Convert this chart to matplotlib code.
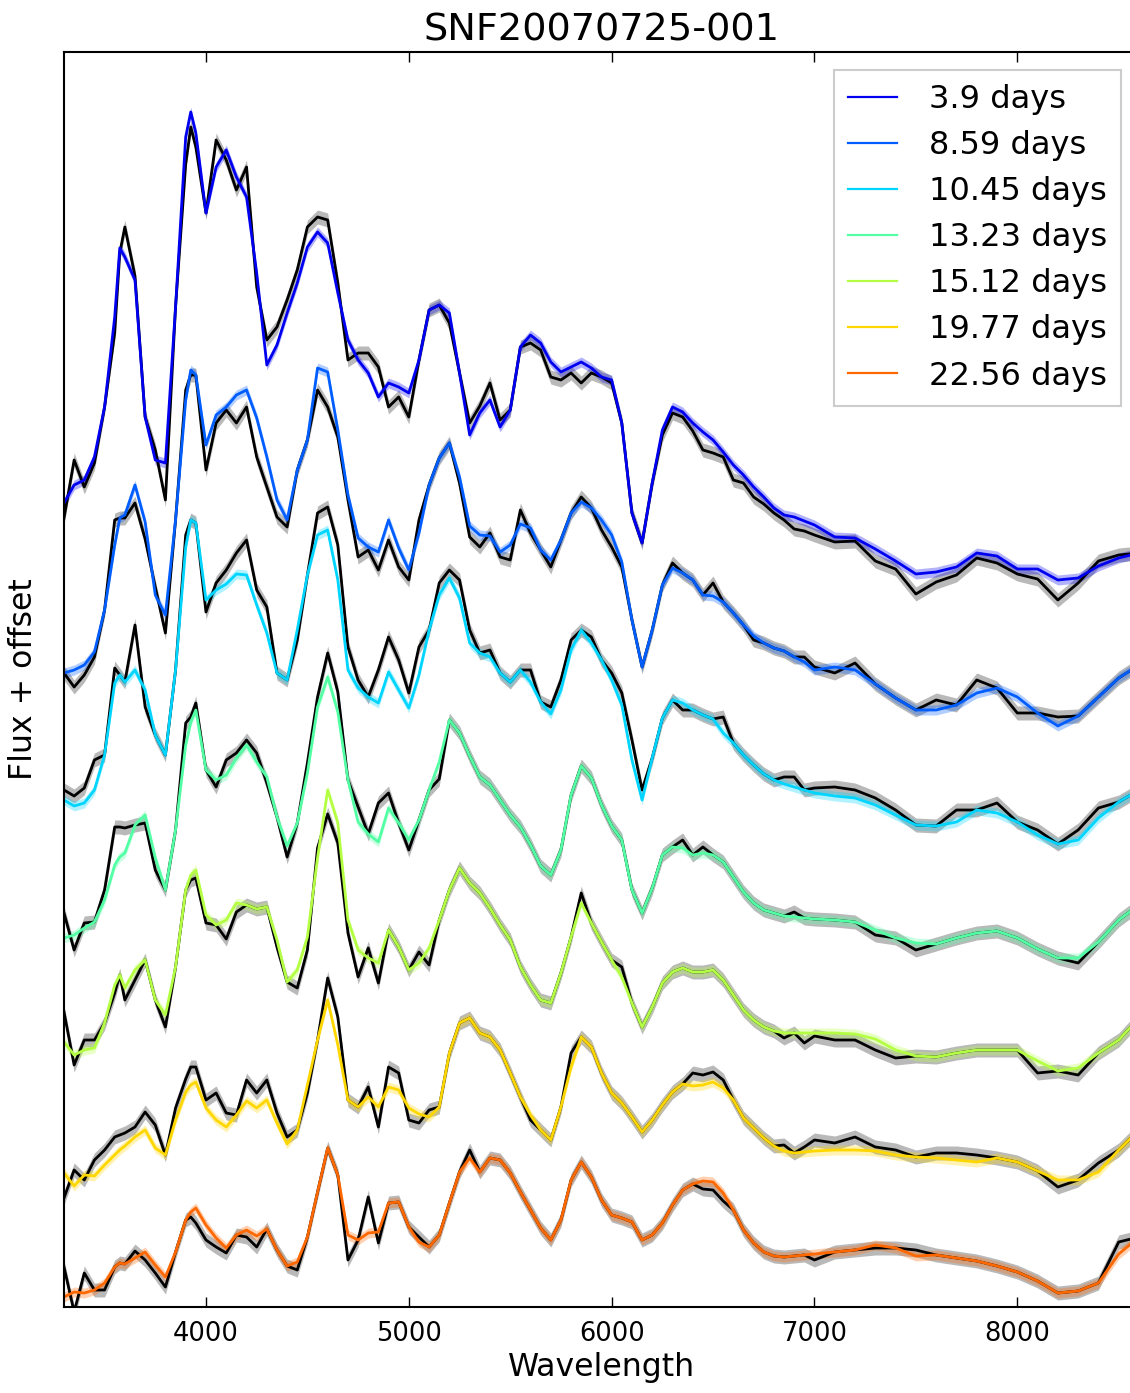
import numpy as np
import matplotlib
matplotlib.use("Agg")
from matplotlib import pyplot as plt

# wavelength grid (Angstrom) shared by every epoch
wave = [3300, 3350, 3400, 3450, 3500, 3550, 3575, 3600, 3650, 3700, 3750,
        3800, 3850, 3900, 3925, 3950, 4000, 4050, 4100, 4150, 4200, 4250,
        4300, 4350, 4400, 4450, 4500, 4550, 4600, 4650, 4700, 4750,
        4800, 4850, 4900, 4950, 5000, 5050, 5100, 5150, 5200, 5250,
        5300, 5350, 5400, 5450, 5500, 5550, 5600, 5650, 5700, 5750,
        5800, 5850, 5900, 5950, 6000, 6050, 6100, 6150, 6200, 6250,
        6300, 6350, 6400, 6450, 6500, 6550, 6600, 6650, 6700, 6750,
        6800, 6850, 6900, 6950, 7000, 7100, 7200, 7300, 7400, 7500,
        7600, 7700, 7800, 7900, 8000, 8100, 8200, 8300, 8400, 8500,
        8600]

phases = ["3.9", "8.59", "10.45", "13.23", "15.12", "19.77", "22.56"]
offsets = [6, 5, 4, 3, 2, 1, 0]

# model flux (coloured curves)
model_39 = [2.97, 3.15, 3.20, 3.43, 3.93, 4.83, 5.52, 5.43, 5.20, 3.83, 3.40,
            3.37, 4.93, 6.63, 6.88, 6.67, 5.87, 6.33, 6.50, 6.23, 6.03, 5.27,
            4.35, 4.55, 4.87, 5.17, 5.53, 5.68, 5.57, 5.07, 4.60, 4.40,
            4.27, 4.03, 4.17, 4.13, 4.07, 4.40, 4.90, 4.95, 4.87, 4.27,
            3.65, 3.87, 4.00, 3.73, 3.90, 4.53, 4.65, 4.57, 4.38, 4.28,
            4.33, 4.38, 4.32, 4.23, 4.20, 3.77, 2.87, 2.57, 3.17, 3.70,
            3.93, 3.88, 3.77, 3.68, 3.60, 3.48, 3.35, 3.25, 3.13, 3.03,
            2.92, 2.85, 2.83, 2.79, 2.75, 2.63, 2.62, 2.51, 2.39, 2.26,
            2.28, 2.33, 2.47, 2.44, 2.31, 2.31, 2.20, 2.22, 2.34, 2.42,
            2.47]
model_859 = [2.27, 2.30, 2.35, 2.48, 2.90, 3.55, 3.82, 3.85, 4.15, 3.78, 3.05,
             2.85, 3.80, 5.00, 5.30, 5.25, 4.55, 4.85, 4.93, 5.05, 5.10, 4.82,
             4.43, 4.00, 3.80, 4.30, 4.60, 5.32, 5.28, 4.70, 4.05, 3.62,
             3.53, 3.48, 3.80, 3.52, 3.30, 3.67, 4.15, 4.42, 4.57, 4.23,
             3.74, 3.65, 3.64, 3.48, 3.55, 3.76, 3.72, 3.50, 3.40, 3.60,
             3.87, 3.98, 3.92, 3.80, 3.65, 3.38, 2.80, 2.33, 2.70, 3.15,
             3.32, 3.27, 3.20, 3.05, 3.04, 2.98, 2.87, 2.75, 2.64, 2.57,
             2.52, 2.49, 2.43, 2.38, 2.30, 2.33, 2.30, 2.16, 2.02, 1.90,
             1.90, 1.95, 2.07, 2.12, 2.03, 1.87, 1.74, 1.84, 2.03, 2.22,
             2.35]
model_1045 = [2.00, 1.94, 1.97, 2.10, 2.45, 3.17, 3.25, 3.18, 3.30, 3.10, 2.65,
              2.45, 3.30, 4.53, 4.80, 4.77, 4.00, 4.10, 4.16, 4.26, 4.25, 3.95,
              3.67, 3.27, 3.20, 3.70, 4.25, 4.65, 4.70, 4.20, 3.30, 3.12,
              3.03, 2.97, 3.28, 3.10, 2.92, 3.25, 3.70, 4.05, 4.22, 4.02,
              3.57, 3.47, 3.43, 3.27, 3.18, 3.30, 3.18, 2.98, 2.86, 3.10,
              3.50, 3.70, 3.57, 3.40, 3.20, 2.95, 2.40, 2.00, 2.42, 2.82,
              3.00, 2.97, 2.90, 2.85, 2.81, 2.67, 2.57, 2.45, 2.35, 2.26,
              2.20, 2.16, 2.13, 2.10, 2.07, 2.04, 2.02, 1.95, 1.85, 1.75,
              1.74, 1.78, 1.90, 1.87, 1.78, 1.65, 1.56, 1.60, 1.82, 1.98,
              2.10]
model_1323 = [1.62, 1.65, 1.72, 1.78, 2.00, 2.35, 2.43, 2.47, 2.75, 2.85, 2.42,
              2.10, 2.70, 3.55, 3.78, 3.90, 3.30, 3.20, 3.25, 3.42, 3.55, 3.38,
              3.23, 2.83, 2.54, 2.77, 3.27, 3.93, 4.23, 3.88, 3.20, 2.78,
              2.66, 2.58, 2.92, 2.77, 2.60, 2.80, 3.10, 3.38, 3.80, 3.67,
              3.44, 3.23, 3.15, 3.00, 2.85, 2.73, 2.55, 2.34, 2.25, 2.50,
              3.05, 3.34, 3.22, 2.95, 2.74, 2.60, 2.10, 1.87, 2.12, 2.45,
              2.53, 2.52, 2.45, 2.47, 2.45, 2.38, 2.23, 2.08, 1.97, 1.90,
              1.87, 1.84, 1.83, 1.82, 1.81, 1.80, 1.78, 1.70, 1.62, 1.57,
              1.56, 1.62, 1.67, 1.69, 1.62, 1.51, 1.42, 1.42, 1.58, 1.80,
              1.95]
model_1512 = [1.58, 1.45, 1.50, 1.52, 1.77, 2.15, 2.25, 2.12, 2.30, 2.40, 2.00,
              1.85, 2.33, 3.10, 3.25, 3.30, 2.85, 2.75, 2.80, 2.97, 2.95, 2.91,
              2.93, 2.60, 2.18, 2.30, 2.63, 3.42, 4.10, 3.77, 2.80, 2.50,
              2.42, 2.37, 2.70, 2.53, 2.30, 2.37, 2.52, 2.80, 3.10, 3.32,
              3.17, 3.07, 2.92, 2.75, 2.60, 2.33, 2.15, 2.00, 1.97, 2.27,
              2.63, 2.97, 2.77, 2.58, 2.40, 2.23, 1.97, 1.73, 1.93, 2.17,
              2.28, 2.32, 2.28, 2.28, 2.30, 2.20, 2.05, 1.90, 1.80, 1.73,
              1.69, 1.67, 1.67, 1.67, 1.67, 1.67, 1.66, 1.61, 1.50, 1.44,
              1.43, 1.47, 1.50, 1.50, 1.50, 1.39, 1.29, 1.32, 1.47, 1.60,
              1.82]
model_1977 = [1.27, 1.14, 1.25, 1.24, 1.35, 1.45, 1.50, 1.54, 1.63, 1.70, 1.52,
              1.45, 1.80, 2.08, 2.15, 2.18, 1.92, 1.80, 1.73, 1.85, 1.99, 1.92,
              2.00, 1.77, 1.56, 1.70, 2.15, 2.60, 3.00, 2.55, 2.00, 1.93,
              2.03, 1.93, 2.13, 2.10, 1.92, 1.86, 1.83, 1.93, 2.47, 2.77,
              2.82, 2.67, 2.63, 2.50, 2.27, 2.03, 1.85, 1.70, 1.60, 1.93,
              2.33, 2.63, 2.53, 2.27, 2.07, 1.97, 1.83, 1.68, 1.80, 1.95,
              2.08, 2.16, 2.14, 2.15, 2.18, 2.12, 2.00, 1.82, 1.72, 1.62,
              1.54, 1.49, 1.47, 1.48, 1.49, 1.50, 1.50, 1.49, 1.45, 1.43,
              1.42, 1.40, 1.38, 1.42, 1.38, 1.29, 1.20, 1.20, 1.28, 1.50,
              1.70]
model_2256 = [1.03, 1.08, 1.07, 1.10, 1.17, 1.33, 1.37, 1.36, 1.42, 1.48, 1.35,
              1.23, 1.48, 1.80, 1.88, 1.92, 1.75, 1.62, 1.52, 1.65, 1.70, 1.64,
              1.71, 1.50, 1.34, 1.38, 1.63, 2.08, 2.52, 2.25, 1.65, 1.60,
              1.67, 1.68, 1.97, 1.98, 1.73, 1.58, 1.53, 1.65, 1.97, 2.28,
              2.42, 2.28, 2.42, 2.40, 2.27, 2.08, 1.90, 1.72, 1.60, 1.80,
              2.20, 2.38, 2.23, 2.00, 1.85, 1.82, 1.78, 1.60, 1.65, 1.77,
              1.95, 2.10, 2.16, 2.19, 2.18, 2.07, 1.90, 1.70, 1.57, 1.48,
              1.44, 1.43, 1.44, 1.45, 1.46, 1.48, 1.50, 1.55, 1.52, 1.44,
              1.45, 1.42, 1.39, 1.34, 1.28, 1.19, 1.07, 1.09, 1.17, 1.46,
              1.63]

# observed minus model (black curves)
resid_39 = [-0.15, 0.25, -0.07, -0.06, 0, -0.16, -0.05, 0.30, 0.04, 0, 0.10,
            -0.37, 0, -0.27, -0.15, -0.14, 0, 0.27, -0.10, -0.13, 0.30, -0.14,
            0.25, 0.18, 0.13, 0.13, 0.20, 0.15, 0.23, 0.10, -0.20, 0.07,
            0.20, 0.30, -0.24, -0.10, -0.24, 0, 0, 0, -0.10, 0,
            0.12, 0.07, 0.17, 0.07, 0, 0, -0.08, -0.07, -0.15, -0.08,
            -0.06, -0.21, -0.05, 0, -0.03, 0, 0, 0, 0, -0.05,
            -0.06, -0.05, -0.08, -0.18, -0.13, -0.05, -0.15, -0.08, -0.10, -0.07,
            -0.05, -0.05, -0.12, -0.10, -0.10, -0.05, -0.03, -0.12, -0.08, -0.20,
            -0.10, -0.08, -0.05, -0.07, -0.05, -0.10, -0.20, -0.05, 0.05, 0.03,
            0]
resid_859 = [0, -0.17, -0.10, -0.05, 0, 0.25, 0, -0.03, -0.18, -0.17, 0.08,
             -0.18, 0, 0.10, -0.05, 0, -0.25, -0.08, -0.03, -0.28, -0.17, -0.39,
             -0.30, -0.17, -0.07, 0, 0, -0.22, -0.35, -0.07, -0.05, -0.19,
             -0.03, -0.18, -0.20, -0.19, -0.10, 0.13, 0, 0, 0, -0.06,
             -0.11, -0.12, 0.03, -0.05, -0.15, 0.14, -0.05, 0, -0.07, 0,
             0, 0.05, 0, -0.10, -0.12, -0.05, 0, 0, 0, 0,
             0.05, 0, 0, 0, 0.13, 0, 0, 0, -0.04, 0,
             0, 0, 0, 0.05, 0.03, -0.06, 0.07, 0, 0, 0,
             0.10, 0, 0.13, 0, -0.16, 0, 0.09, 0, 0, 0,
             0]
resid_1045 = [0.10, 0.10, 0.15, 0.30, 0, 0.15, 0, 0, 0.45, -0.17, 0,
              0, 0, 0.12, 0, 0, -0.12, 0.07, 0.14, 0.21, 0.35, 0.15,
              0.26, 0, 0, -0.10, 0, 0.22, 0.23, 0.35, 0.23, 0.08,
              0, 0.33, 0.35, 0.30, 0.15, 0.28, 0, 0.12, 0.08, 0.18,
              0.13, 0, 0.07, 0, 0, 0, 0.12, 0, 0.07, 0.10,
              0.10, 0, 0.06, 0, 0.07, 0.12, 0.20, 0.10, 0, 0,
              0, -0.07, 0, 0, 0, 0.16, 0, 0, 0, 0,
              0, 0.07, 0.10, 0, 0.05, 0.09, 0.08, 0.07, 0.05, 0,
              0, 0.12, 0, 0.10, 0, 0.05, 0, 0.10, 0.10, 0,
              0]
resid_1323 = [0.25, -0.15, 0.05, 0, 0.10, 0.38, 0.30, 0.25, 0, -0.08, -0.12,
              0, 0, 0.22, 0.05, 0.07, 0, -0.07, 0.15, 0.05, 0.05, 0.09,
              -0.06, 0, -0.11, 0, 0.10, 0.10, 0.24, 0.20, 0, 0.15,
              0, 0.39, 0.15, 0, -0.10, 0, 0, -0.17, 0, 0,
              0, 0, 0, 0, 0, 0, 0, 0, 0, 0,
              0, 0, 0, 0, 0, 0, 0, 0, 0, 0,
              0, 0.08, 0, 0.06, 0, 0, 0, 0, 0, 0,
              0, 0, 0.05, 0, 0, 0, 0, -0.05, 0, -0.07,
              0, 0, 0, 0, 0, 0, 0, -0.05, 0, 0,
              0]
resid_1512 = [0.30, -0.10, 0.10, 0.08, 0, -0.08, 0, -0.12, -0.10, 0, 0,
              -0.12, 0, 0, -0.05, -0.08, -0.08, 0, -0.19, -0.09, 0, 0,
              0, -0.07, 0, -0.18, -0.13, 0.10, -0.24, -0.20, -0.13, -0.27,
              0.10, -0.20, 0, 0, 0, 0.11, -0.17, 0, 0, 0,
              0, 0, 0, 0, 0, 0, 0, 0, 0, 0,
              0, 0.10, 0, 0, 0, 0.10, 0, 0, 0, 0,
              0, 0, 0, 0, 0, 0, 0, 0, 0, 0,
              0, -0.05, 0, -0.10, -0.03, -0.07, -0.06, -0.11, -0.08, 0,
              0, 0, 0, 0, 0, -0.12, 0, -0.07, 0, 0,
              0]
resid_1977 = [-0.25, 0.16, -0.05, 0.16, 0.15, 0.18, 0.15, 0.13, 0.10, 0.18, 0.23,
              0, 0.12, 0.13, 0.18, 0.15, 0.08, 0.27, 0.14, 0, 0.21, 0.15,
              0.20, 0.10, 0.07, 0, -0.08, 0, 0.22, 0.28, 0, 0,
              0.10, -0.20, 0.20, 0.17, -0.12, -0.09, 0.07, 0, 0, 0,
              0, 0, 0, 0, 0, 0, -0.05, 0, 0, 0,
              0.14, 0, 0, 0, 0, 0, 0, 0, 0, 0,
              0, 0, 0.13, 0.10, 0.10, 0.08, 0, 0, 0, 0,
              0, 0.06, 0, 0.05, 0.11, 0.07, 0.13, 0.04, 0.05, 0,
              0.05, 0.07, 0.07, 0, 0, 0, -0.07, 0, 0.09, 0,
              0]
resid_2256 = [0.30, -0.20, 0.20, 0, -0.07, 0, 0, 0, 0.07, -0.08, -0.08,
              -0.10, 0, 0, -0.05, -0.15, -0.15, -0.09, -0.05, 0, -0.07, -0.11,
              0, 0, 0, -0.08, 0, 0, 0, 0, -0.25, 0,
              0.36, -0.11, 0, 0, 0, 0.05, 0, 0, 0, 0,
              0.08, 0, 0, 0, 0, 0, 0, 0, 0, 0,
              0, 0, 0, 0, 0, 0, 0, 0, 0, 0,
              0, 0, 0, -0.08, -0.08, -0.08, 0, 0, 0, 0,
              0, 0, 0, 0, -0.06, 0, 0, -0.03, 0, 0.06,
              0, 0, 0, 0, 0, 0, 0, 0, 0, 0.12,
              0]

models = [model_39, model_859, model_1045, model_1323, model_1512, model_1977, model_2256]
resids = [resid_39, resid_859, resid_1045, resid_1323, resid_1512, resid_1977, resid_2256]

obs_err = 0.07
model_err = 0.05

fig = plt.figure(figsize=(11.30, 13.93), dpi=100)
ax = fig.add_axes([64 / 1130, 86 / 1393, 1075 / 1130, 1255 / 1393])

colors = plt.cm.jet(np.linspace(0.1, 0.8, len(phases)))
w = np.array(wave)

for model, resid, off, phase, c in zip(models, resids, offsets, phases, colors):
    m = np.array(model) + off
    obs = m + np.array(resid)
    ax.fill_between(w, obs - obs_err, obs + obs_err, color='gray', alpha=0.55, lw=0)
    ax.plot(w, obs, color='k', lw=2.0)
    ax.fill_between(w, m - model_err, m + model_err, color=c, alpha=0.3, lw=0)
    ax.plot(w, m, color=c, lw=2.0, label=phase + ' days')

ax.set_xlim(3300, 8600)
ax.set_ylim(0.93, 13.48)
ax.set_yticks([])
ax.set_xticks([4000, 5000, 6000, 7000, 8000])
ax.tick_params(axis='x', direction='in', top=True, length=7, width=1, labelsize=18.5, pad=10)
for s in ax.spines.values():
    s.set_linewidth(1.5)

ax.set_xlabel('Wavelength', fontsize=22.7)
ax.set_ylabel('Flux + offset', fontsize=22.7, labelpad=18)
ax.set_title('SNF20070725-001', fontsize=27.5, pad=8)

leg = ax.legend(loc='upper right', fontsize=23.1, fancybox=False, framealpha=1,
                edgecolor='0.8', handlelength=1.5, handletextpad=1.0,
                labelspacing=0.47, borderpad=0.45, borderaxespad=0.55)
leg.get_frame().set_linewidth(1.5)
for line in leg.get_lines():
    line.set_linewidth(1.6)

fig.savefig('out.png', dpi=100)
